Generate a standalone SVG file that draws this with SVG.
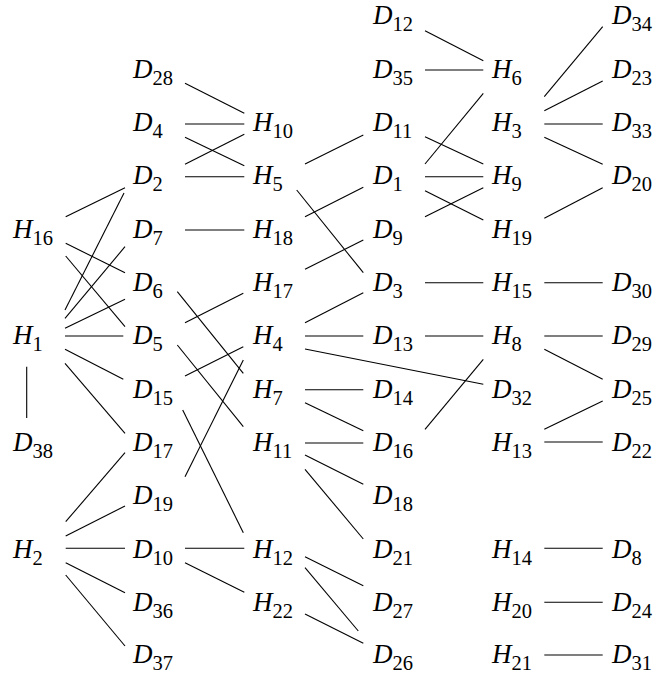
<svg xmlns="http://www.w3.org/2000/svg" width="660" height="675" viewBox="0 0 660 675">
<style>
.n{font-family:"Liberation Serif","Times New Roman",serif;font-style:italic;font-size:27px;fill:#000}
.s{font-style:normal;font-size:20.5px}
.e line{stroke:#000;stroke-width:1.1;fill:none}
</style>
<rect width="660" height="675" fill="#fff"/>
<g id="connectors" class="e">
<line x1="65.7" y1="216.7" x2="125" y2="187.7"/>
<line x1="65" y1="310" x2="124" y2="193"/>
<line x1="65" y1="318.3" x2="125" y2="246.7"/>
<line x1="65" y1="328.3" x2="125" y2="299.3"/>
<line x1="65" y1="336" x2="123.3" y2="336"/>
<line x1="65" y1="349.3" x2="123.3" y2="379.3"/>
<line x1="65" y1="363.3" x2="125" y2="433.3"/>
<line x1="65.7" y1="243.3" x2="125" y2="272.7"/>
<line x1="65.7" y1="256" x2="125" y2="326.7"/>
<line x1="26.7" y1="366.7" x2="26.7" y2="418"/>
<line x1="65.7" y1="521.7" x2="125" y2="452.7"/>
<line x1="65.7" y1="536" x2="125" y2="506"/>
<line x1="65.7" y1="548.3" x2="125" y2="548.3"/>
<line x1="65.7" y1="562.7" x2="125" y2="592.7"/>
<line x1="65.7" y1="575" x2="125" y2="646"/>
<line x1="185" y1="83.3" x2="244.3" y2="113.3"/>
<line x1="185" y1="124" x2="244.3" y2="124"/>
<line x1="185" y1="137.3" x2="244.3" y2="165.7"/>
<line x1="185" y1="164.3" x2="244.3" y2="134.3"/>
<line x1="185" y1="176.7" x2="244.3" y2="176.7"/>
<line x1="185" y1="230" x2="244.3" y2="230"/>
<line x1="177.3" y1="291.7" x2="243.3" y2="373.3"/>
<line x1="185" y1="322.7" x2="243.3" y2="293.3"/>
<line x1="177.3" y1="345" x2="243.3" y2="426.7"/>
<line x1="185" y1="376" x2="243.3" y2="346.7"/>
<line x1="182.7" y1="410" x2="243.3" y2="532.7"/>
<line x1="185" y1="476.7" x2="243.3" y2="360"/>
<line x1="185" y1="548.3" x2="244.3" y2="548.3"/>
<line x1="185" y1="562.7" x2="244.3" y2="592.3"/>
<line x1="305" y1="164" x2="363.3" y2="135"/>
<line x1="296.7" y1="190" x2="363.3" y2="272.7"/>
<line x1="305" y1="216.7" x2="363.3" y2="187.3"/>
<line x1="305" y1="269.3" x2="363.3" y2="240"/>
<line x1="305" y1="322.7" x2="363.3" y2="292.7"/>
<line x1="305" y1="336" x2="363.3" y2="336"/>
<line x1="305" y1="349" x2="483.3" y2="384.3"/>
<line x1="305" y1="389.7" x2="363.3" y2="389.7"/>
<line x1="305" y1="402.7" x2="363.3" y2="430.7"/>
<line x1="305" y1="443" x2="363.3" y2="443"/>
<line x1="305" y1="455" x2="363.3" y2="484.3"/>
<line x1="305" y1="469.3" x2="363.3" y2="539"/>
<line x1="305" y1="556.7" x2="363.3" y2="585.7"/>
<line x1="305" y1="567.7" x2="358.3" y2="631"/>
<line x1="305" y1="614" x2="363.3" y2="643.3"/>
<line x1="425" y1="30.7" x2="483.3" y2="60.7"/>
<line x1="425" y1="70" x2="483.3" y2="70"/>
<line x1="425" y1="164" x2="483.3" y2="93.3"/>
<line x1="425" y1="136.7" x2="483.3" y2="164"/>
<line x1="425" y1="176.7" x2="483.3" y2="176.7"/>
<line x1="425" y1="190.7" x2="483.3" y2="220"/>
<line x1="425" y1="216.7" x2="483.3" y2="187.7"/>
<line x1="425" y1="282.7" x2="483.3" y2="282.7"/>
<line x1="425" y1="336" x2="483.3" y2="336"/>
<line x1="425" y1="429.3" x2="483.3" y2="359.3"/>
<line x1="544.3" y1="96.7" x2="602.7" y2="26.7"/>
<line x1="544.3" y1="110.7" x2="602.7" y2="81"/>
<line x1="544.3" y1="124" x2="602.7" y2="124"/>
<line x1="544.3" y1="137.3" x2="602.7" y2="164.3"/>
<line x1="544.3" y1="218.3" x2="602.7" y2="187.7"/>
<line x1="544.3" y1="282.7" x2="602.7" y2="282.7"/>
<line x1="544.3" y1="336" x2="602.7" y2="336"/>
<line x1="544.3" y1="349.3" x2="602.7" y2="379.3"/>
<line x1="544.3" y1="429.3" x2="602.7" y2="401"/>
<line x1="544.3" y1="442" x2="602.7" y2="442"/>
<line x1="544.3" y1="548.3" x2="602.7" y2="548.3"/>
<line x1="544.3" y1="602.3" x2="602.7" y2="602.3"/>
<line x1="544.3" y1="655" x2="602.7" y2="655"/>
</g>
<g id="H16"><text class="n" x="13" y="237.5">H<tspan class="s" dy="7">16</tspan></text></g>
<g id="H1"><text class="n" x="13" y="344.2">H<tspan class="s" dy="7">1</tspan></text></g>
<g id="D38"><text class="n" x="13" y="450.9">D<tspan class="s" dy="7">38</tspan></text></g>
<g id="H2"><text class="n" x="13" y="557.5">H<tspan class="s" dy="7">2</tspan></text></g>
<g id="D28"><text class="n" x="133" y="77.5">D<tspan class="s" dy="7">28</tspan></text></g>
<g id="D4"><text class="n" x="133" y="130.9">D<tspan class="s" dy="7">4</tspan></text></g>
<g id="D2"><text class="n" x="133" y="184.2">D<tspan class="s" dy="7">2</tspan></text></g>
<g id="D7"><text class="n" x="133" y="237.5">D<tspan class="s" dy="7">7</tspan></text></g>
<g id="D6"><text class="n" x="133" y="290.9">D<tspan class="s" dy="7">6</tspan></text></g>
<g id="D5"><text class="n" x="133" y="344.2">D<tspan class="s" dy="7">5</tspan></text></g>
<g id="D15"><text class="n" x="133" y="397.5">D<tspan class="s" dy="7">15</tspan></text></g>
<g id="D17"><text class="n" x="133" y="450.9">D<tspan class="s" dy="7">17</tspan></text></g>
<g id="D19"><text class="n" x="133" y="504.2">D<tspan class="s" dy="7">19</tspan></text></g>
<g id="D10"><text class="n" x="133" y="557.5">D<tspan class="s" dy="7">10</tspan></text></g>
<g id="D36"><text class="n" x="133" y="610.9">D<tspan class="s" dy="7">36</tspan></text></g>
<g id="D37"><text class="n" x="133" y="663">D<tspan class="s" dy="7">37</tspan></text></g>
<g id="H10"><text class="n" x="253" y="130.9">H<tspan class="s" dy="7">10</tspan></text></g>
<g id="H5"><text class="n" x="253" y="184.2">H<tspan class="s" dy="7">5</tspan></text></g>
<g id="H18"><text class="n" x="253" y="237.5">H<tspan class="s" dy="7">18</tspan></text></g>
<g id="H17"><text class="n" x="253" y="290.9">H<tspan class="s" dy="7">17</tspan></text></g>
<g id="H4"><text class="n" x="253" y="344.2">H<tspan class="s" dy="7">4</tspan></text></g>
<g id="H7"><text class="n" x="253" y="397.5">H<tspan class="s" dy="7">7</tspan></text></g>
<g id="H11"><text class="n" x="253" y="450.9">H<tspan class="s" dy="7">11</tspan></text></g>
<g id="H12"><text class="n" x="253" y="557.5">H<tspan class="s" dy="7">12</tspan></text></g>
<g id="H22"><text class="n" x="253" y="610.9">H<tspan class="s" dy="7">22</tspan></text></g>
<g id="D12"><text class="n" x="373" y="24.2">D<tspan class="s" dy="7">12</tspan></text></g>
<g id="D35"><text class="n" x="373" y="77.5">D<tspan class="s" dy="7">35</tspan></text></g>
<g id="D11"><text class="n" x="373" y="130.9">D<tspan class="s" dy="7">11</tspan></text></g>
<g id="D1"><text class="n" x="373" y="184.2">D<tspan class="s" dy="7">1</tspan></text></g>
<g id="D9"><text class="n" x="373" y="237.5">D<tspan class="s" dy="7">9</tspan></text></g>
<g id="D3"><text class="n" x="373" y="290.9">D<tspan class="s" dy="7">3</tspan></text></g>
<g id="D13"><text class="n" x="373" y="344.2">D<tspan class="s" dy="7">13</tspan></text></g>
<g id="D14"><text class="n" x="373" y="397.5">D<tspan class="s" dy="7">14</tspan></text></g>
<g id="D16"><text class="n" x="373" y="450.9">D<tspan class="s" dy="7">16</tspan></text></g>
<g id="D18"><text class="n" x="373" y="504.2">D<tspan class="s" dy="7">18</tspan></text></g>
<g id="D21"><text class="n" x="373" y="557.5">D<tspan class="s" dy="7">21</tspan></text></g>
<g id="D27"><text class="n" x="373" y="610.9">D<tspan class="s" dy="7">27</tspan></text></g>
<g id="D26"><text class="n" x="373" y="663">D<tspan class="s" dy="7">26</tspan></text></g>
<g id="H6"><text class="n" x="492" y="77.5">H<tspan class="s" dy="7">6</tspan></text></g>
<g id="H3"><text class="n" x="492" y="130.9">H<tspan class="s" dy="7">3</tspan></text></g>
<g id="H9"><text class="n" x="492" y="184.2">H<tspan class="s" dy="7">9</tspan></text></g>
<g id="H19"><text class="n" x="492" y="237.5">H<tspan class="s" dy="7">19</tspan></text></g>
<g id="H15"><text class="n" x="492" y="290.9">H<tspan class="s" dy="7">15</tspan></text></g>
<g id="H8"><text class="n" x="492" y="344.2">H<tspan class="s" dy="7">8</tspan></text></g>
<g id="D32"><text class="n" x="492" y="397.5">D<tspan class="s" dy="7">32</tspan></text></g>
<g id="H13"><text class="n" x="492" y="450.9">H<tspan class="s" dy="7">13</tspan></text></g>
<g id="H14"><text class="n" x="492" y="557.5">H<tspan class="s" dy="7">14</tspan></text></g>
<g id="H20"><text class="n" x="492" y="610.9">H<tspan class="s" dy="7">20</tspan></text></g>
<g id="H21"><text class="n" x="492" y="663">H<tspan class="s" dy="7">21</tspan></text></g>
<g id="D34"><text class="n" x="612" y="24.2">D<tspan class="s" dy="7">34</tspan></text></g>
<g id="D23"><text class="n" x="612" y="77.5">D<tspan class="s" dy="7">23</tspan></text></g>
<g id="D33"><text class="n" x="612" y="130.9">D<tspan class="s" dy="7">33</tspan></text></g>
<g id="D20"><text class="n" x="612" y="184.2">D<tspan class="s" dy="7">20</tspan></text></g>
<g id="D30"><text class="n" x="612" y="290.9">D<tspan class="s" dy="7">30</tspan></text></g>
<g id="D29"><text class="n" x="612" y="344.2">D<tspan class="s" dy="7">29</tspan></text></g>
<g id="D25"><text class="n" x="612" y="397.5">D<tspan class="s" dy="7">25</tspan></text></g>
<g id="D22"><text class="n" x="612" y="450.9">D<tspan class="s" dy="7">22</tspan></text></g>
<g id="D8"><text class="n" x="612" y="557.5">D<tspan class="s" dy="7">8</tspan></text></g>
<g id="D24"><text class="n" x="612" y="610.9">D<tspan class="s" dy="7">24</tspan></text></g>
<g id="D31"><text class="n" x="612" y="663">D<tspan class="s" dy="7">31</tspan></text></g>
</svg>
